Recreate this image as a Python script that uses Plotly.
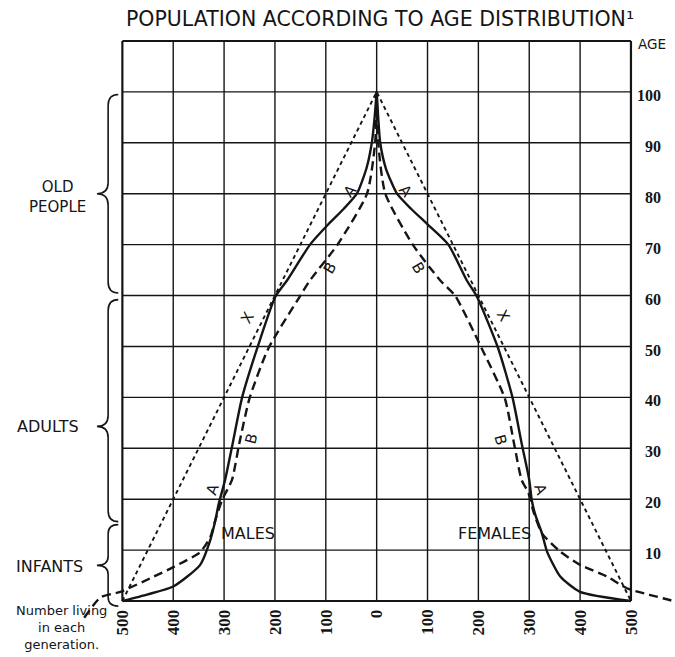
import plotly.graph_objects as go

# ---------------- data ----------------
# Curve A (solid) - males (left) and females (right): age -> number living
A_male_age = [0, 1.3, 2.9, 7.1, 12, 15.9, 18.9, 23.8, 31, 39.8, 49.6, 59.8, 63, 70, 74, 77, 80, 85, 90, 95, 100]
A_male_num = [500, 450, 399, 347, 327, 317, 311, 298, 283, 265, 235, 199, 176, 131, 95, 65, 39, 20, 9.5, 4, 0]
A_female_age = [0, 1.8, 4.8, 9.7, 13.3, 16.9, 19.8, 23.8, 31, 39.8, 49.6, 59.8, 63, 70, 74, 77, 80, 85, 90, 95, 100]
A_female_num = [500, 400, 361, 335, 325, 312, 305, 300, 285, 267.5, 239, 197, 177, 141, 100, 68, 40, 18, 7, 3, 0]

# Curve B (long dashes)
B_male_age = [-3.3, 0.7, 1.8, 4.8, 6.7, 9.6, 12.6, 16, 19.8, 23.8, 31, 39.8, 49.6, 60, 63, 70, 80, 90, 100]
B_male_num = [575, 543, 504, 438, 399, 347, 327, 317, 304, 284.5, 270, 250, 213, 150, 131, 77, 19, 3, 0]
B_female_age = [-0.9, -0.1, 2.5, 4.8, 7.1, 9.7, 13.3, 17.5, 21.2, 23.8, 31, 39.8, 49.6, 60, 63, 70, 80, 90, 100]
B_female_num = [605, 586, 492, 453, 400, 361, 325, 308.5, 298.5, 285, 270, 252, 206.6, 154, 124.7, 71, 17, 3, 0]

# Curve X (short dashes, straight)
X_age = [0, 100, 0]
X_num = [-500, 0, 500]

# axis ticks
x_tick_vals = [-500, -400, -300, -200, -100, 0, 100, 200, 300, 400, 500]
x_tick_text = ["500", "400", "300", "200", "100", "0", "100", "200", "300", "400", "500"]
age_ticks = [10, 20, 30, 40, 50, 60, 70, 80, 90, 100]

INK = "#151515"
SANS = "DejaVu Sans"
SERIF = "Liberation Serif"

fig = go.Figure()

def neg(v):
    return [-a for a in v]

line_A = dict(color=INK, width=2.4, shape="spline", smoothing=0.6)
line_B = dict(color=INK, width=2.4, dash="9px,5px", shape="spline", smoothing=0.6)
line_X = dict(color=INK, width=1.9, dash="4px,3.5px")

fig.add_trace(go.Scatter(x=neg(A_male_num), y=A_male_age, mode="lines", line=line_A, showlegend=False))
fig.add_trace(go.Scatter(x=A_female_num, y=A_female_age, mode="lines", line=line_A, showlegend=False))
fig.add_trace(go.Scatter(x=neg(B_male_num), y=B_male_age, mode="lines", line=line_B, showlegend=False))
fig.add_trace(go.Scatter(x=B_female_num, y=B_female_age, mode="lines", line=line_B, showlegend=False))
fig.add_trace(go.Scatter(x=X_num, y=X_age, mode="lines", line=line_X, showlegend=False))

# ---------------- grid ----------------
shapes = []
for xv in x_tick_vals:
    border = xv in (-500, 500)
    shapes.append(dict(type="line", xref="x", yref="y", x0=xv, x1=xv, y0=0, y1=110,
                       line=dict(color=INK, width=2.2 if border else 1.4), layer="below"))
for yv in [0] + age_ticks + [110]:
    border = yv in (0, 110)
    shapes.append(dict(type="line", xref="x", yref="y", x0=-500, x1=500, y0=yv, y1=yv,
                       line=dict(color=INK, width=2.2 if border else 1.4), layer="below"))

# ---------------- braces ----------------
def brace(ytop, ybot, ytip, xs=-528, xt=-550, xe=-508, d=2.2):
    p = (f"M {xe},{ytop} Q {xs},{ytop} {xs},{ytop - d} "
         f"L {xs},{ytip + d} Q {xs},{ytip} {xt},{ytip} "
         f"Q {xs},{ytip} {xs},{ytip - d} "
         f"L {xs},{ybot + d} Q {xs},{ybot} {xe},{ybot}")
    return dict(type="path", xref="x", yref="y", path=p, line=dict(color=INK, width=1.6))

shapes.append(brace(99.5, 60.5, 80.0))
shapes.append(brace(59.2, 15.6, 34.3))
shapes.append(brace(15.0, -1.0, 7.0, d=1.8))

# ---------------- texts ----------------
ann = []
def txt(x, y, s, size, family=SANS, angle=0, xanchor="center", yanchor="middle", bold=False):
    ann.append(dict(x=x, y=y, xref="x", yref="y", text=s, showarrow=False, textangle=angle,
                    xanchor=xanchor, yanchor=yanchor, align="center",
                    font=dict(family=family, size=size, color=INK, weight="bold" if bold else "normal")))

txt(6.9, 114.3, "POPULATION ACCORDING TO AGE DISTRIBUTION¹", 20.5)
txt(542, 109.4, "AGE", 13.5)
for a in age_ticks:
    txt(563.5, a - 0.7, str(a), 16, family=SERIF, xanchor="right", bold=True)
for xv, t in zip(x_tick_vals, x_tick_text):
    txt(xv, -1.2, t, 17, family=SERIF, angle=-90, yanchor="top", bold=True)

txt(-628.4, 79.4, "OLD<br>PEOPLE", 15)
txt(-647, 34.2, "ADULTS", 16)
txt(-644, 6.7, "INFANTS", 16)
txt(-620, -10.45, "Number living<br>in each<br>generation.", 13, yanchor="bottom")

txt(-253.2, 13.2, "MALES", 16)
txt(232, 13.2, "FEMALES", 16)

# curve letters
txt(-322.6, 22.0, "A", 15, angle=-70)
txt(-52, 80.5, "A", 15, angle=-50)
txt(56, 80.5, "A", 15, angle=50)
txt(322.6, 21.8, "A", 15, angle=70)
txt(-91.5, 65.4, "B", 15, angle=-60)
txt(81.6, 65.4, "B", 15, angle=60)
txt(-246.9, 31.9, "B", 15, angle=-75)
txt(243, 31.6, "B", 15, angle=75)
txt(-253.7, 55.5, "X", 15, angle=-60)
txt(247.8, 56.1, "X", 15, angle=60)

fig.update_layout(
    width=675, height=657,
    margin=dict(l=0, r=0, t=0, b=0, pad=0),
    paper_bgcolor="white", plot_bgcolor="white",
    xaxis=dict(range=[-740.6, 586.6], visible=False, fixedrange=True),
    yaxis=dict(range=[-11.0, 118.05], visible=False, fixedrange=True),
    shapes=shapes, annotations=ann, showlegend=False,
)

fig.write_html("out.html", config={"displayModeBar": False},
               post_script=["document.body.style.margin='0px';document.body.style.overflow='hidden';"])
